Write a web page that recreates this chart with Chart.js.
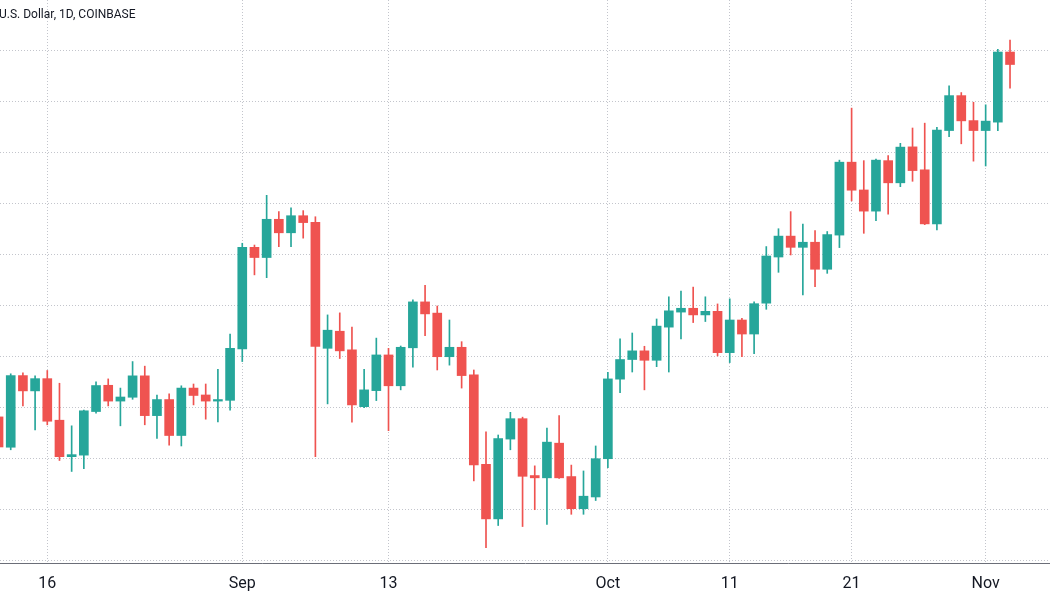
<!DOCTYPE html>
<html>
<head>
<meta charset="utf-8">
<script src="https://cdn.jsdelivr.net/npm/chart.js@4"></script>
<style>
  html, body { margin: 0; padding: 0; background: #ffffff; }
  #wrap { position: relative; width: 1050px; height: 600px; overflow: hidden; }
  #title {
    position: absolute; left: -1px; top: 8px;
    font: 12px Roboto, sans-serif; line-height: 12px;
    color: #131722; white-space: nowrap;
  }
</style>
</head>
<body>
<div id="wrap">
  <canvas id="chart"></canvas>
  <div id="title">U.S. Dollar, 1D, COINBASE</div>
</div>
<script>
// daily candles
const dates = [
  '2021-08-12','2021-08-13','2021-08-14','2021-08-15','2021-08-16','2021-08-17','2021-08-18',
  '2021-08-19','2021-08-20','2021-08-21','2021-08-22','2021-08-23','2021-08-24','2021-08-25',
  '2021-08-26','2021-08-27','2021-08-28','2021-08-29','2021-08-30','2021-08-31','2021-09-01',
  '2021-09-02','2021-09-03','2021-09-04','2021-09-05','2021-09-06','2021-09-07','2021-09-08',
  '2021-09-09','2021-09-10','2021-09-11','2021-09-12','2021-09-13','2021-09-14','2021-09-15',
  '2021-09-16','2021-09-17','2021-09-18','2021-09-19','2021-09-20','2021-09-21','2021-09-22',
  '2021-09-23','2021-09-24','2021-09-25','2021-09-26','2021-09-27','2021-09-28','2021-09-29',
  '2021-09-30','2021-10-01','2021-10-02','2021-10-03','2021-10-04','2021-10-05','2021-10-06',
  '2021-10-07','2021-10-08','2021-10-09','2021-10-10','2021-10-11','2021-10-12','2021-10-13',
  '2021-10-14','2021-10-15','2021-10-16','2021-10-17','2021-10-18','2021-10-19','2021-10-20',
  '2021-10-21','2021-10-22','2021-10-23','2021-10-24','2021-10-25','2021-10-26','2021-10-27',
  '2021-10-28','2021-10-29','2021-10-30','2021-10-31','2021-11-01','2021-11-02','2021-11-03'
];
const open = [
  3162,3043,3324,3264,3312,3149,3006,3012,3183,3286,3224,3239,3323,3167,
  3230,3089,3275,3248,3224,3227,3429,3827,3787,3937,3884,3951,3925,3431,
  3498,3425,3202,3265,3405,3284,3433,3613,3569,3398,3435,3327,2976,2762,
  3075,3155,2932,2923,3059,2928,2802,2848,2998,3310,3387,3421,3384,3514,
  3573,3588,3562,3576,3414,3542,3487,3608,3789,3871,3827,3847,3741,3875,
  4161,4052,3969,4167,4080,4221,4131,3919,4285,4422,4324,4285,4318,4593
];
const high = [
  3230,3331,3335,3323,3344,3294,3127,3189,3300,3311,3275,3379,3361,3248,
  3252,3284,3291,3291,3349,3487,3843,3836,4031,3967,3982,3971,3947,3562,
  3570,3514,3349,3471,3431,3440,3621,3678,3597,3542,3457,3346,3103,3091,
  3180,3161,2970,3118,3167,2973,2950,3048,3337,3468,3491,3439,3546,3633,
  3655,3671,3633,3605,3625,3549,3613,3830,3900,3967,3918,3893,3889,4169,
  4373,4167,4173,4187,4235,4295,4314,4298,4460,4434,4396,4386,4604,4640
];
const low = [
  3035,3033,3205,3111,3131,2991,2948,2959,3177,3205,3127,3231,3131,3078,
  3051,3048,3209,3153,3142,3188,3379,3719,3708,3830,3830,3863,3006,3213,
  3391,3141,3198,3226,3108,3268,3357,3481,3346,3365,3275,2911,2649,2736,
  3033,2732,2798,2740,2921,2780,2780,2834,2963,3257,3338,3268,3359,3338,
  3468,3532,3536,3401,3375,3398,3410,3584,3729,3797,3640,3673,3725,3826,
  4009,3882,3932,3957,4065,4086,3916,3895,4261,4233,4165,4146,4285,4451
];
const close = [
  3044,3324,3264,3312,3145,3006,3014,3186,3285,3224,3240,3323,3167,3230,
  3089,3275,3246,3224,3230,3431,3827,3787,3937,3884,3951,3924,3438,3502,
  3421,3209,3268,3405,3284,3435,3613,3566,3398,3435,3324,2974,2762,3077,
  3155,2929,2923,3063,2923,2802,2851,2998,3311,3387,3421,3384,3518,3578,
  3588,3562,3576,3414,3542,3487,3606,3793,3871,3827,3847,3741,3877,4161,
  4051,3969,4169,4080,4220,4128,3919,4287,4422,4323,4285,4322,4593,4544
];

// x axis labels
const tickDates = ['2021-08-16','2021-09-01','2021-09-13','2021-10-01','2021-10-11','2021-10-21','2021-11-01'];
const tickLabels = ['16','Sep','13','Oct','11','21','Nov'];
// horizontal grid levels (price scale itself is cropped off)
const gridLevels = [2600,2800,3000,3200,3400,3600,3800,4000,4200,4400,4600];

const upColor = '#26a69a';
const downColor = '#ef5350';
const gridColor = '#c3c5cc';

const base = Date.parse('2021-08-16');
const dayOf = d => Math.round((Date.parse(d) - base) / 86400000);
const days = dates.map(dayOf);
const tickDays = tickDates.map(dayOf);
const colors = open.map((o, i) => close[i] >= o ? upColor : downColor);

const bodies = days.map((d, i) => ({x: d, y: [open[i], close[i]]}));
const wicks = days.map((d, i) => ({x: d, y: [low[i], high[i]]}));

const wrap = document.getElementById('wrap');
const ctx = document.getElementById('chart').getContext('2d');
new Chart(ctx, {
  type: 'bar',
  data: {
    datasets: [
      {
        label: 'body',
        data: bodies,
        backgroundColor: colors,
        barThickness: 9,
        minBarLength: 1,
        grouped: false,
        order: 0
      },
      {
        label: 'wick',
        data: wicks,
        backgroundColor: colors,
        barThickness: 1,
        grouped: false,
        order: 1
      }
    ]
  },
  options: {
    responsive: true,
    maintainAspectRatio: false,
    animation: false,
    layout: { padding: 0 },
    plugins: {
      legend: { display: false },
      tooltip: { enabled: false },
      title: { display: false }
    },
    scales: {
      x: {
        type: 'linear',
        min: -3.88,
        max: 82.28,
        offset: false,
        afterBuildTicks: scale => { scale.ticks = tickDays.map(v => ({value: v})); },
        afterFit: scale => { scale.height = 37; },
        grid: { color: gridColor, offset: false, drawTicks: false },
        border: { display: true, color: '#6b6e78', width: 1, dash: [1, 2] },
        ticks: {
          autoSkip: false,
          maxRotation: 0,
          padding: 11,
          color: '#131722',
          font: { family: 'Roboto', size: 16 },
          callback: v => tickLabels[tickDays.indexOf(v)]
        }
      },
      y: {
        min: 2589,
        max: 4797,
        afterBuildTicks: scale => { scale.ticks = gridLevels.map(v => ({value: v})); },
        afterFit: scale => { scale.width = 0; },
        grid: { color: gridColor, drawTicks: false },
        border: { display: false, dash: [1, 2] },
        ticks: { display: false }
      }
    }
  }
});
</script>
</body>
</html>
